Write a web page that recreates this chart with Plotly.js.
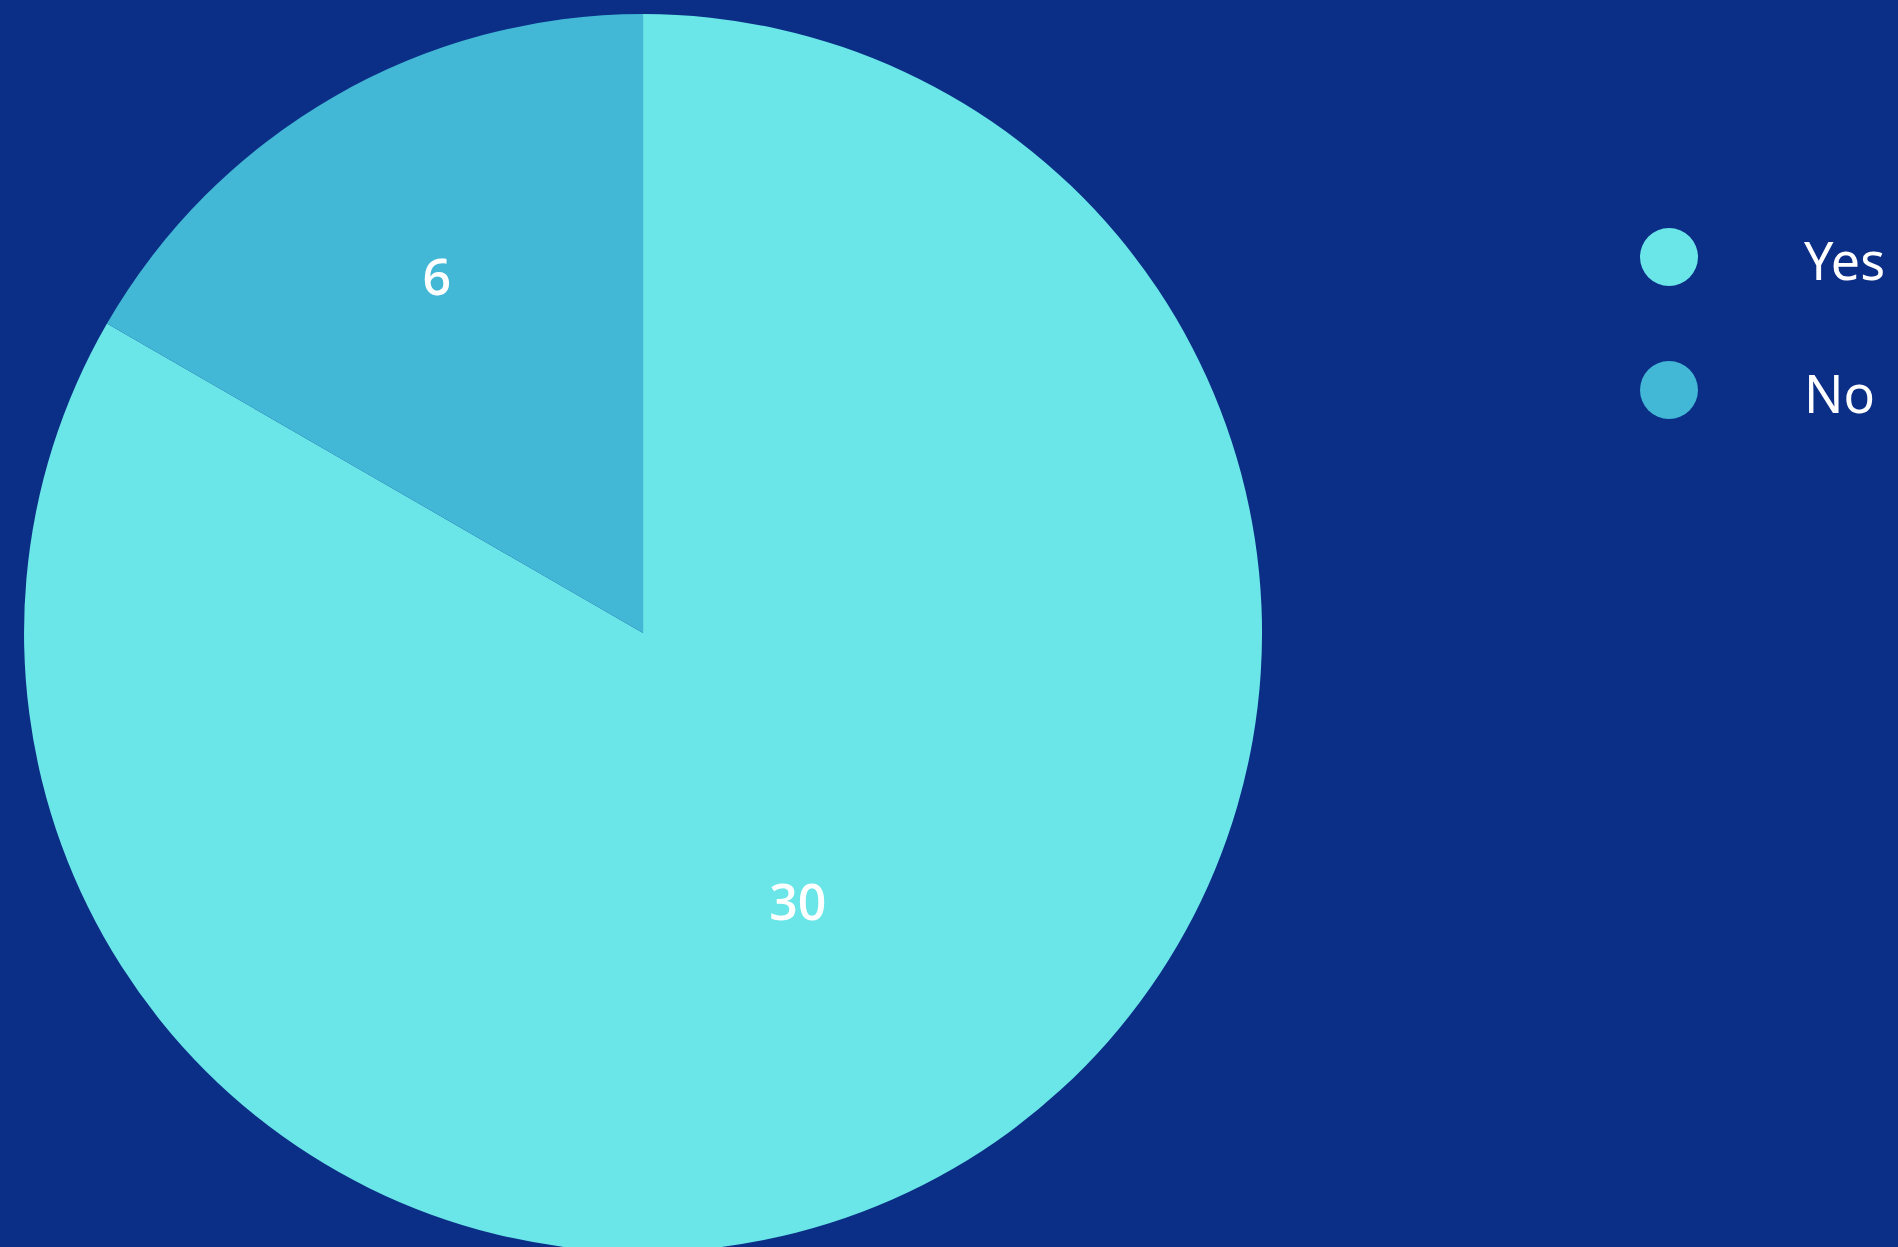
<!DOCTYPE html>
<html>
<head>
<meta charset="utf-8">
<script src="https://cdn.plot.ly/plotly-3.0.1.min.js"></script>
<style>
  html, body { margin: 0; padding: 0; overflow: hidden; background: #0B2F87; }
  #wrap { width: 1898px; height: 1247px; overflow: hidden; }
  #chart { width: 1898px; height: 1262px; }
</style>
</head>
<body>
<div id="wrap"><div id="chart"></div></div>
<script>
// Data
const labels = ["Yes", "No"];
const values = [30, 6];
const colors = ["#6AE6E8", "#42B8D6"];

const W = 1898, H = 1262, mT = 14, mB = 10;
const plotH = H - mT - mB;
const toPaperY = py => 1 - (py - mT) / plotH;

const pie = {
  type: "pie",
  labels: labels,
  values: values,
  sort: false,
  direction: "clockwise",
  rotation: 0,
  marker: { colors: colors, line: { width: 0 } },
  textinfo: "value",
  textposition: "inside",
  insidetextorientation: "horizontal",
  textfont: { family: "Open Sans, Noto Sans, sans-serif", size: 50, color: "#FFFFFF", weight: 600 },
  hoverinfo: "label+value",
  showlegend: false,
  domain: { x: [0, 0.6776], y: [0, 1] }
};

// custom legend built from labels/colors
const shapes = [];
const annotations = [];
labels.forEach((lab, i) => {
  const cy = 257 + i * 133;
  shapes.push({
    type: "circle",
    xref: "paper", yref: "paper",
    xsizemode: "pixel", ysizemode: "pixel",
    xanchor: 1669 / W, yanchor: toPaperY(cy),
    x0: -29, x1: 29, y0: -29, y1: 29,
    fillcolor: colors[i],
    line: { width: 0 }
  });
  annotations.push({
    xref: "paper", yref: "paper",
    x: 1802 / W, y: toPaperY(cy + 2),
    xanchor: "left", yanchor: "middle",
    text: lab,
    showarrow: false,
    font: { family: "Noto Sans, Open Sans, sans-serif", size: 52, color: "#FFFFFF" }
  });
});

const layout = {
  width: W, height: H,
  margin: { l: 0, r: 0, t: mT, b: mB, pad: 0 },
  paper_bgcolor: "#0B2F87",
  plot_bgcolor: "#0B2F87",
  showlegend: false,
  shapes: shapes,
  annotations: annotations
};

Plotly.newPlot("chart", [pie], layout, { displayModeBar: false });
</script>
</body>
</html>
